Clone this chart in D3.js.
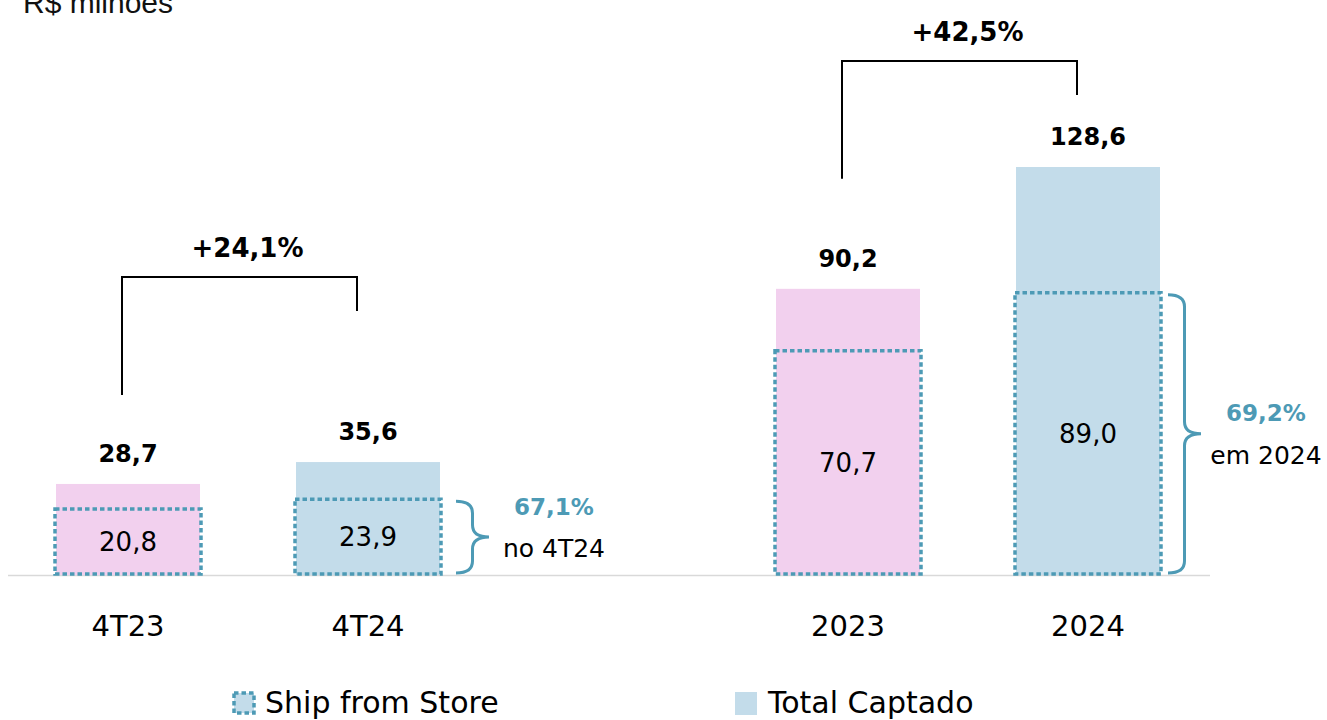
<!DOCTYPE html>
<html>
<head>
<meta charset="utf-8">
<script src="https://cdn.jsdelivr.net/npm/d3@7"></script>
<style>
  body { margin: 0; background: #fff; }
  svg { display: block; }
</style>
</head>
<body>
<div id="chart"></div>
<script>
// Data
const categories = ['4T23', '4T24', '2023', '2024'];
const totalValues = [28.7, 35.6, 90.2, 128.6];
const shipValues = [20.8, 23.9, 70.7, 89.0];
const growthFrom = ['4T23', '2023'];
const growthTo = ['4T24', '2024'];
const growthLabels = ['+24,1%', '+42,5%'];
const shareCats = ['4T24', '2024'];
const sharePcts = ['67,1%', '69,2%'];
const shareNotes = ['no 4T24', 'em 2024'];
const legendLabels = ['Ship from Store', 'Total Captado'];

const W = 1327, H = 720;
const pink = '#f2d0ee', blue = '#c3dcea', teal = '#4d9ab5';
const font = '"DejaVu Sans", sans-serif';

const br = d3.formatLocale({ decimal: ',', thousands: '.', grouping: [3], currency: ['R$', ''] });
const fmt = br.format('.1f');

const svg = d3.select('#chart').append('svg')
  .attr('width', W)
  .attr('height', H);

// band scale with an empty slot between the quarters and the years
const x = d3.scaleBand()
  .domain(['4T23', '4T24', 'gap', '2023', '2024'])
  .range([8, 1208])
  .paddingInner(0.4)
  .paddingOuter(0.2);

const y = d3.scaleLinear()
  .domain([0, 128.6])
  .range([575, 167]);

const color = d3.scaleOrdinal()
  .domain(categories)
  .range([pink, blue, pink, blue]);

const data = categories.map((c, i) => ({ cat: c, total: totalValues[i], ship: shipValues[i] }));

// Title (partly above the top edge, as in the source)
svg.append('text')
  .attr('x', 23)
  .attr('y', 13)
  .style('font-family', '"Liberation Sans", Arial, sans-serif')
  .style('font-size', '30px')
  .style('fill', '#111')
  .text('R$ milhões');

// Baseline
svg.append('line')
  .attr('x1', 8)
  .attr('x2', 1210)
  .attr('y1', y(0) + 0.5)
  .attr('y2', y(0) + 0.5)
  .style('stroke', '#d9d9d9')
  .style('stroke-width', 1.5);

// Total bars
svg.append('g')
  .selectAll('rect')
  .data(data)
  .enter()
  .append('rect')
  .attr('x', d => x(d.cat))
  .attr('y', d => y(d.total))
  .attr('width', x.bandwidth())
  .attr('height', d => y(0) - y(d.total))
  .attr('fill', d => color(d.cat));

// Ship from Store dotted boxes
svg.append('g')
  .selectAll('rect')
  .data(data)
  .enter()
  .append('rect')
  .attr('x', d => x(d.cat) - 1)
  .attr('y', d => y(d.ship))
  .attr('width', x.bandwidth() + 2)
  .attr('height', d => y(0) - y(d.ship) - 1)
  .attr('fill', 'none')
  .style('stroke', teal)
  .style('stroke-width', 3.5)
  .style('stroke-dasharray', '4.5 3');

// Total labels
svg.append('g')
  .selectAll('text')
  .data(data)
  .enter()
  .append('text')
  .attr('x', d => x(d.cat) + x.bandwidth() / 2)
  .attr('y', d => y(d.total) - 22)
  .attr('text-anchor', 'middle')
  .style('font-family', font)
  .style('font-weight', 700)
  .style('font-size', '24px')
  .style('fill', '#000')
  .text(d => fmt(d.total));

// Ship labels
svg.append('g')
  .selectAll('text')
  .data(data)
  .enter()
  .append('text')
  .attr('x', d => x(d.cat) + x.bandwidth() / 2)
  .attr('y', d => (y(d.ship) + y(0)) / 2)
  .attr('dy', '0.35em')
  .attr('text-anchor', 'middle')
  .style('font-family', font)
  .style('font-size', '26px')
  .style('fill', '#000')
  .text(d => fmt(d.ship));

// Category axis
const xAxis = svg.append('g')
  .attr('transform', `translate(0,${y(0)})`)
  .call(d3.axisBottom(x).tickSize(0).tickPadding(0).tickFormat(d => d === 'gap' ? '' : d));
xAxis.select('.domain').remove();
xAxis.selectAll('text')
  .attr('y', 51)
  .attr('dy', '0.35em')
  .style('font-family', font)
  .style('font-size', '29px')
  .style('fill', '#000');

// Growth brackets
const bracketOffsets = [[89, 185], [110, 106]];
growthFrom.forEach((a, i) => {
  const b = growthTo[i];
  const ia = categories.indexOf(a), ib = categories.indexOf(b);
  const xa = x(a) + x.bandwidth() / 2 - 6;
  const xb = x(b) + x.bandwidth() / 2 - 11;
  const yBottomA = y(totalValues[ia]) - bracketOffsets[i][0];
  const yTop = y(totalValues[ib]) - bracketOffsets[i][1];
  const yBottomB = yTop + 34;
  svg.append('path')
    .attr('d', `M${xa},${yBottomA}V${yTop}H${xb}V${yBottomB}`)
    .attr('fill', 'none')
    .style('stroke', '#000')
    .style('stroke-width', 2);
  svg.append('text')
    .attr('x', (xa + xb) / 2 + 8)
    .attr('y', yTop - 20)
    .attr('text-anchor', 'middle')
    .style('font-family', font)
    .style('font-weight', 700)
    .style('font-size', '26px')
    .style('fill', '#000')
    .text(growthLabels[i]);
});

// Curly brace
function brace(x0, y1, y2, w) {
  const xm = x0 + w / 2, ym = (y1 + y2) / 2, r = 12;
  return `M${x0},${y1}Q${xm},${y1} ${xm},${y1 + r}L${xm},${ym - r}Q${xm},${ym} ${x0 + w},${ym}` +
    `Q${xm},${ym} ${xm},${ym + r}L${xm},${y2 - r}Q${xm},${y2} ${x0},${y2}`;
}

const braceGap = [16, 8];
const noteShift = [[-30, 11], [-21, 21]];
shareCats.forEach((c, i) => {
  const k = categories.indexOf(c);
  const x0 = x(c) + x.bandwidth() + braceGap[i];
  const y1 = y(shipValues[k]) + 2, y2 = y(0) - 2;
  const w = 33;
  svg.append('path')
    .attr('d', brace(x0, y1, y2, w))
    .attr('fill', 'none')
    .style('stroke', teal)
    .style('stroke-width', 3);
  const tx = x0 + w + 65;
  const ym = (y1 + y2) / 2;
  svg.append('text')
    .attr('x', tx)
    .attr('y', ym + noteShift[i][0])
    .attr('dy', '0.35em')
    .attr('text-anchor', 'middle')
    .style('font-family', font)
    .style('font-weight', 700)
    .style('font-size', '23px')
    .style('fill', teal)
    .text(sharePcts[i]);
  svg.append('text')
    .attr('x', tx)
    .attr('y', ym + noteShift[i][1])
    .attr('dy', '0.35em')
    .attr('text-anchor', 'middle')
    .style('font-family', font)
    .style('font-size', '25px')
    .style('fill', '#000')
    .text(shareNotes[i]);
});

// Legend
const legend = svg.append('g');
const legendX = [232, 735];
legend.append('rect')
  .attr('x', legendX[0] + 2)
  .attr('y', 693)
  .attr('width', 20)
  .attr('height', 20)
  .attr('fill', blue)
  .style('stroke', teal)
  .style('stroke-width', 3.5)
  .style('stroke-dasharray', '4.5 3');
legend.append('rect')
  .attr('x', legendX[1])
  .attr('y', 692)
  .attr('width', 22)
  .attr('height', 23)
  .attr('fill', blue);
legend.selectAll('text')
  .data(legendLabels)
  .enter()
  .append('text')
  .attr('x', (_, i) => legendX[i] + 33)
  .attr('y', 702)
  .attr('dy', '0.35em')
  .style('font-family', font)
  .style('font-size', '30px')
  .style('fill', '#000')
  .text(d => d);
</script>
</body>
</html>
